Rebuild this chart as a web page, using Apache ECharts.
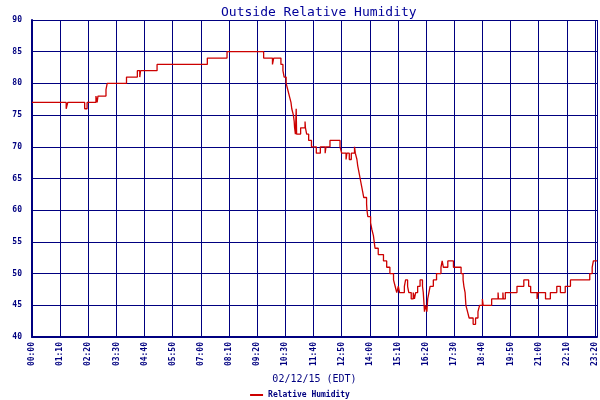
<!DOCTYPE html>
<html>
<head>
<meta charset="utf-8">
<script src="https://cdn.jsdelivr.net/npm/echarts@6/dist/echarts.min.js"></script>
<style>html,body{margin:0;padding:0;background:#fff}#c{width:600px;height:400px}</style>
</head>
<body>
<div id="c"></div>
<script>
// minutes after midnight where the reading changes
var times = [0, 85, 89, 131, 137, 159, 162, 164, 184, 187, 235, 262, 268, 270, 311, 436, 485, 576, 598, 601,
  619, 624, 627, 632, 636, 640, 644, 646, 650, 652, 653, 655, 657, 658, 668, 679, 680, 683, 688, 695,
  707, 717, 729, 731, 741, 766, 770, 781, 783, 789, 794, 802, 804, 808, 810, 813, 816, 819, 822, 825,
  832, 833, 835, 842, 845, 849, 851, 853, 861, 874, 882, 890, 899, 903, 907, 911, 914, 926, 929, 934,
  937, 943, 948, 951, 954, 959, 965, 971, 973, 976, 978, 982, 984, 987, 990, 998, 1006, 1017, 1020, 1023,
  1034, 1048, 1067, 1072, 1074, 1077, 1078, 1079, 1083, 1087, 1097, 1103, 1109, 1113, 1120, 1122, 1143, 1159, 1160, 1171,
  1172, 1177, 1206, 1223, 1235, 1240, 1256, 1258, 1277, 1289, 1305, 1314, 1326, 1339, 1387, 1393, 1396, 1405];
var humidity = [77, 76, 77, 76, 77, 78, 77, 78, 79, 80, 81, 82, 81, 82, 83, 84, 85, 84, 83, 84,
  83, 82, 81, 80, 79, 78, 77, 76, 75, 74, 73, 72, 76, 72, 73, 74, 73, 72, 71, 70,
  69, 70, 69, 70, 71, 70, 69, 68, 69, 68, 69, 70, 69, 68, 67, 66, 65, 64, 63, 62,
  61, 60, 59, 58, 57, 56, 55, 54, 53, 52, 51, 50, 49, 48, 47, 48, 47, 48, 49, 48,
  47, 46, 47, 46, 47, 48, 49, 48, 47, 44, 45, 44, 46, 47, 48, 49, 50, 51, 52, 51,
  52, 51, 50, 49, 48, 47, 46, 45, 44, 43, 42, 43, 44, 45, 46, 45, 46, 47, 46, 47,
  46, 47, 48, 49, 48, 47, 46, 47, 46, 47, 48, 47, 48, 49, 50, 51, 52, 52];
// x tick positions (minutes): every 70 min plus the final reading
var xTicks = [0, 70, 140, 210, 280, 350, 420, 490, 560, 630, 700, 770, 840, 910, 980, 1050, 1120, 1190, 1260, 1330, 1400, 1405];
var xMin = 0, xMax = 1405;
var yMin = 40, yMax = 90, yStep = 5;
var titleText = 'Outside Relative Humidity';
var xName = '02/12/15 (EDT)';
var yName = 'Per Cent';
var seriesName = 'Relative Humidity';

var navy = '#000080';
var mono = '"DejaVu Sans Mono", "Liberation Mono", monospace';
function pad(n){ return (n < 10 ? '0' : '') + n; }
function fmt(v){ v = Math.round(v); return pad(Math.floor(v / 60)) + ':' + pad(v % 60); }

var data = times.map(function(t, i){ return [t, humidity[i]]; });

var chart = echarts.init(document.getElementById('c'));
chart.setOption({
  animation: false,
  backgroundColor: '#fff',
  title: {
    text: titleText, left: 216, top: 1,
    textStyle: { fontFamily: mono, fontSize: 13, fontWeight: 'normal', color: '#000099' }
  },
  legend: {
    top: 386, left: 'center', itemWidth: 13, itemHeight: 2, icon: 'rect', itemGap: 4,
    textStyle: { fontFamily: mono, fontSize: 8, fontWeight: 'bold', color: navy },
    data: [seriesName]
  },
  grid: { left: 32, right: 3, top: 20, bottom: 63, containLabel: false, outerBoundsMode: 'none' },
  xAxis: {
    type: 'value', min: xMin, max: xMax,
    name: xName, nameLocation: 'middle', nameGap: 37,
    nameTextStyle: { fontFamily: mono, fontSize: 10, color: navy },
    axisLine: { show: true, lineStyle: { color: navy, width: 2 } },
    axisTick: { show: false, customValues: xTicks },
    splitLine: { show: true, lineStyle: { color: navy, width: 1 } },
    axisLabel: { customValues: xTicks, rotate: 90, margin: 5, formatter: fmt, fontFamily: mono, fontSize: 8, fontWeight: 'bold', color: navy, hideOverlap: false }
  },
  yAxis: {
    type: 'value', min: yMin, max: yMax, interval: yStep,
    name: yName, nameLocation: 'middle', nameGap: 24, nameRotate: 90,
    nameTextStyle: { fontFamily: mono, fontSize: 10, color: '#000099' },
    axisLine: { show: true, lineStyle: { color: navy, width: 2 } },
    axisTick: { show: false },
    splitLine: { show: true, lineStyle: { color: navy, width: 1 } },
    axisLabel: { margin: 10, fontFamily: mono, fontSize: 8, fontWeight: 'bold', color: navy }
  },
  series: [{
    name: seriesName, type: 'line', step: 'end', data: data,
    showSymbol: false, symbol: 'none', color: '#cc0000',
    lineStyle: { color: '#cc0000', width: 1.3 }
  }]
});
</script>
</body>
</html>
